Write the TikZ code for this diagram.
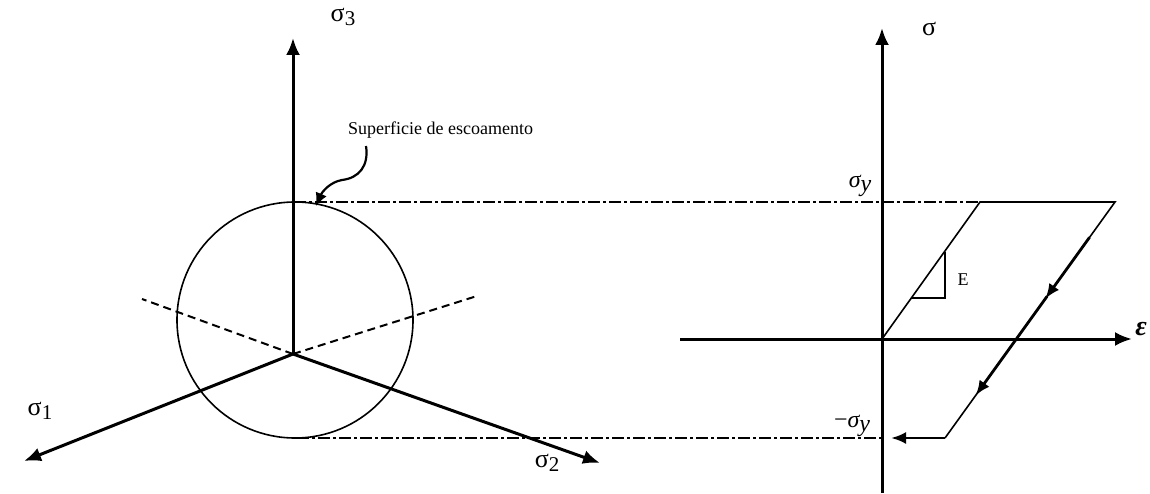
\documentclass[tikz,border=0pt]{standalone}
\usepackage{fontspec}
\setmainfont{Liberation Serif}
\usetikzlibrary{arrows.meta,calc}
\newcommand{\sigy}{{\itshape σ}\raisebox{-0.35ex}{\itshape y}}
\begin{document}
\begin{tikzpicture}[x=1pt,y=-1pt,
  axis/.style={line width=3pt,-{Latex[length=17pt,width=14pt]}},
  thinline/.style={line width=1.6pt},
  dashdot/.style={line width=1.3pt,dash pattern=on 12pt off 3pt on 3pt off 3pt},
  proj/.style={line width=2pt,dash pattern=on 8pt off 5pt},
  lbl/.style={font=\fontsize{26}{30}\selectfont,inner sep=0pt},
  txt/.style={font=\fontsize{18}{21}\selectfont,inner sep=0pt},
  mth/.style={font=\fontsize{24}{28}\selectfont,inner sep=0pt},
  flow/.style={line width=2.8pt,-{Latex[length=15pt,width=12pt]}}]
\useasboundingbox (0,0) rectangle (1150,494);
% ---- left: principal stress space ----
\coordinate (O) at (293,354);
\coordinate (T3) at (293,38);
\coordinate (T1) at (24,461);
\coordinate (T2) at (600,463);
\coordinate (D1) at (142,299);
\coordinate (D2) at (477,296);
\node[draw,circle,thinline,minimum size=236pt,inner sep=0pt] (C) at (295,320) {};
\draw[proj] (O) -- (D1);
\draw[proj] (O) -- (D2);
\draw[axis] (O) -- (T3);
\draw[axis] (O) -- (T1);
\draw[axis] (O) -- (T2);
\node[lbl] (s3) at (343,17) {σ\raisebox{-0.3ex}{\fontsize{21}{24}\selectfont 3}};
\node[lbl] (s1) at (40,411) {σ\raisebox{-0.3ex}{\fontsize{21}{24}\selectfont 1}};
\node[lbl] (s2) at (547,463) {σ\raisebox{-0.3ex}{\fontsize{21}{24}\selectfont 2}};
\node[txt,anchor=west] (sup) at (348,130) {Superficie de escoamento};
\coordinate (ctop) at (294,202);
\coordinate (cbot) at (297,438);
\coordinate (ctip) at (316,206);
\draw[line width=2.2pt,-{Latex[length=13pt,width=12pt]}] (366,146) .. controls (369,166) and (359,178) .. (342,180) .. controls (330,182) and (322,192) .. (ctip);
% ---- right: stress-strain ----
\coordinate (P) at (882,339);
\coordinate (Sy) at (882,28);
\coordinate (Sb) at (882,493);
\coordinate (Ea) at (680,339);
\coordinate (Eb) at (1132,339);
\coordinate (A) at (980,202);
\coordinate (B) at (1115,202);
\coordinate (Cc) at (945,438);
\coordinate (Dd) at (882,438);
\draw[dashdot] (ctop) -- (A);
\draw[dashdot] (cbot) -- (Dd);
\draw[line width=3pt] (Sb) -- (P);
\draw[axis] (P) -- (Sy);
\draw[line width=3pt] (Ea) -- (P);
\draw[axis] (P) -- (Eb);
\draw[thinline] (P) -- (A) -- (B) -- (Cc);
\draw[flow] ($(B)!0.15!(Cc)$) -- ($(B)!0.41!(Cc)$);
\draw[flow] ($(B)!0.40!(Cc)$) -- ($(B)!0.82!(Cc)$);
\draw[flow] (Cc) -- (891,438);
\draw[line width=1.3pt] (911,298) -- (945,298) -- (945,252);
\node[txt] (E) at (963,280) {E};
\node[lbl] (sig) at (929,29) {σ};
\node[mth] (sy) at (860,186) {\sigy};
\node[mth] (msy) at (852,426) {−\sigy};
\node[font=\fontsize{28}{32}\selectfont\bfseries\itshape,inner sep=0pt] (eps) at (1141,329) {ε};
\end{tikzpicture}
\end{document}
